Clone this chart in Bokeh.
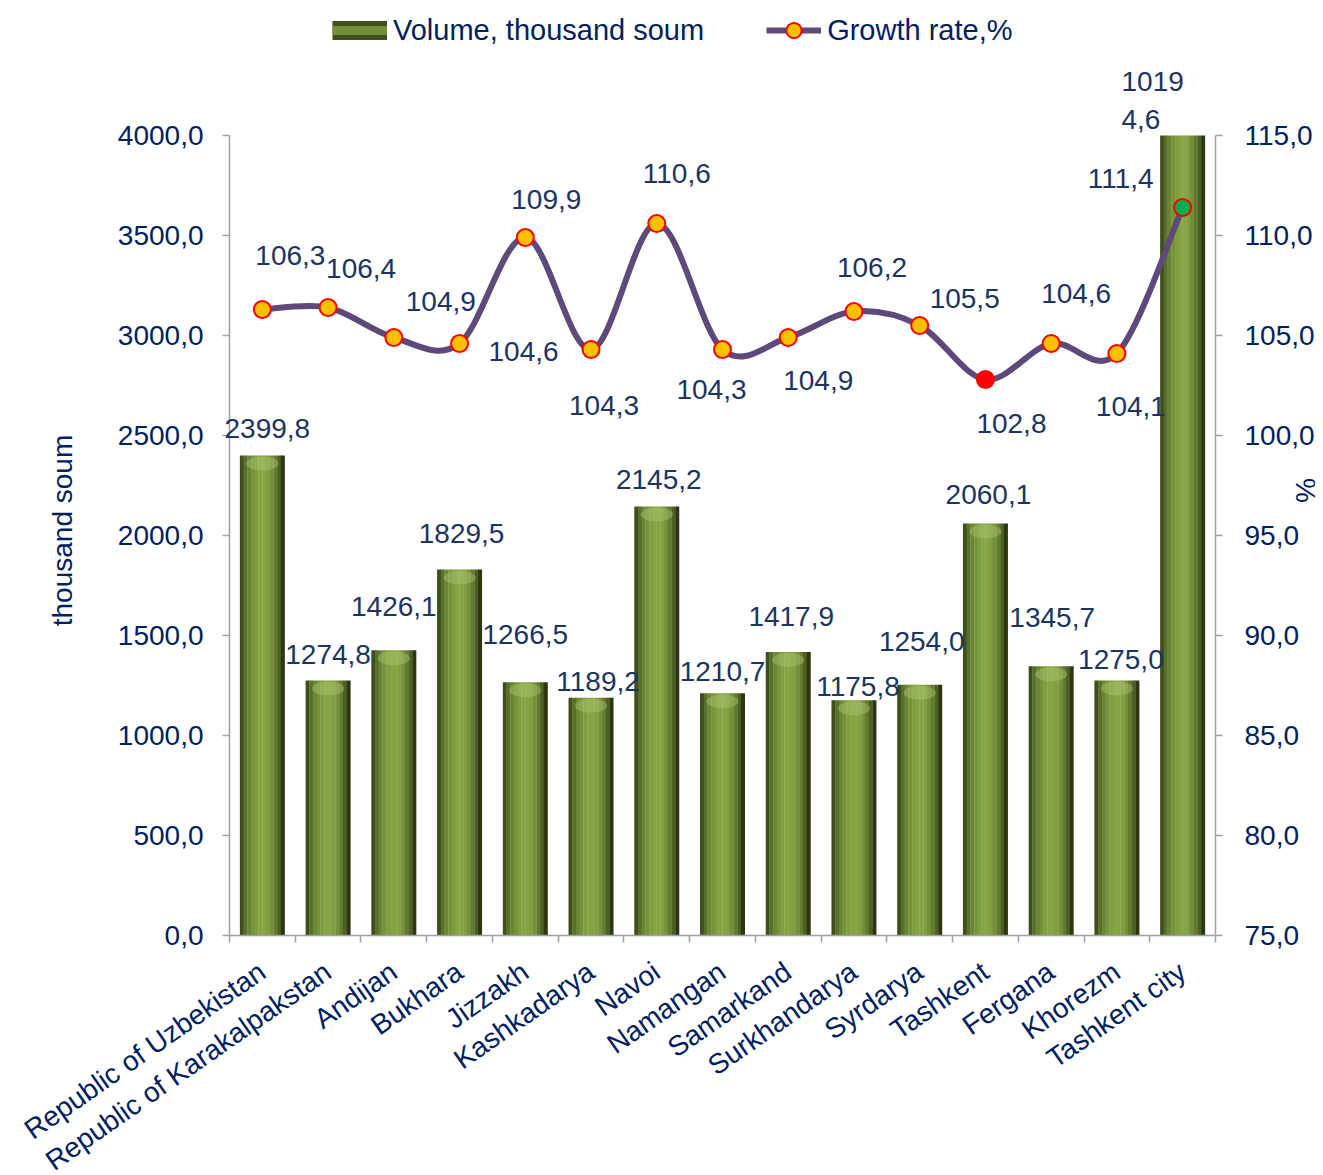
import math
from bokeh.plotting import figure
from bokeh.models import (ColumnDataSource, Range1d, LinearAxis, FixedTicker, Label,
                          CustomJSTickFormatter, LabelSet, Legend, LegendItem)
from bokeh.transform import dodge
from bokeh.core.properties import value
from bokeh.embed import file_html
from bokeh.resources import INLINE

# ---------------- data ----------------
categories = ["Republic of Uzbekistan", "Republic of Karakalpakstan", "Andijan", "Bukhara",
              "Jizzakh", "Kashkadarya", "Navoi", "Namangan", "Samarkand", "Surkhandarya",
              "Syrdarya", "Tashkent", "Fergana", "Khorezm", "Tashkent city"]
volume = [2399.8, 1274.8, 1426.1, 1829.5, 1266.5, 1189.2, 2145.2, 1210.7, 1417.9,
          1175.8, 1254.0, 2060.1, 1345.7, 1275.0, 10194.6]
growth = [106.3, 106.4, 104.9, 104.6, 109.9, 104.3, 110.6, 104.3, 104.9,
          106.2, 105.5, 102.8, 104.6, 104.1, 111.4]
left_ticks = [0, 500, 1000, 1500, 2000, 2500, 3000, 3500, 4000]
right_ticks = [75, 80, 85, 90, 95, 100, 105, 110, 115]

# ---------------- style / layout ----------------
FONT = "Liberation Sans"
NAVY = "#002060"
LNAVY = "#1B3461"
AXIS_GRAY = "#A0A0A0"
LINE_COLOR = "#5F497A"
FS = "28px"
W, H = 1323, 1175
# plot area (the axes' box) inside the canvas, in px
M_LEFT, M_RIGHT, M_TOP, M_BOTTOM = 229, 108, 135, 240
AX_W = W - M_LEFT - M_RIGHT
AX_H = H - M_TOP - M_BOTTOM

# label placement (screen px, +up) -- layout only
bar_dx = [5, 0, 0, 2, 0, 7, 2, 0, 3, 4, 2, 3, 1, 4, -30]
bar_dy = [27, 26, 44, 36, 48, 16, 27, 22, 35, 14, 43, 29, 49, 21, 35]
g_dx = [28, 33, 47, 64, 21, 13, 20, -11, 30, 18, 45, 26, 25, 14, -62]
g_dy = [54, 39, 36, -8, 38, -56, 50, -40, -43, 44, 27, -44, 50, -53, 29]

n = len(categories)
ymin, ymax = left_ticks[0], left_ticks[-1]
rmin, rmax = right_ticks[0], right_ticks[-1]
xpos = [i + 0.5 for i in range(n)]
NAN = float("nan")

# ranges stretched so that the whole canvas is the frame (axes are pinned inside it)
ux = n / AX_W
uy = (ymax - ymin) / AX_H
ur = (rmax - rmin) / AX_H
x_range = Range1d(0 - M_LEFT * ux, n + M_RIGHT * ux)
y_range = Range1d(ymin - M_BOTTOM * uy, ymax + M_TOP * uy)
r_range = Range1d(rmin - M_BOTTOM * ur, rmax + M_TOP * ur)


def fmt(v):
    s = f"{v:.1f}".replace(".", ",")
    if len(s) > 6:
        s = s[:4] + "\n" + s[4:]
    return s


marker_fill = ["#FFC000"] * n
marker_fill[categories.index("Tashkent")] = "#FF0000"
marker_fill[categories.index("Tashkent city")] = "#00B050"

src = ColumnDataSource(dict(
    x=xpos, vol=volume, growth=growth,
    vlabel=[fmt(v) for v in volume],
    vy=[min(v, ymax) for v in volume],
    glabel=[fmt(g) for g in growth],
    bdx=bar_dx, bdy=bar_dy, gdx=g_dx, gdy=g_dy,
    mfill=marker_fill,
))

p = figure(width=W, height=H, x_range=x_range, y_range=y_range,
           output_backend="svg", toolbar_location=None,
           min_border_left=0, min_border_right=0, min_border_top=0, min_border_bottom=0)
p.extra_y_ranges = {"right": r_range}
p.outline_line_color = None
p.grid.visible = False
p.background_fill_color = "white"

# ---------------- bars (cylinder shading by slices) ----------------
bar_w = 0.68
shades = ["#3F4E1C", "#587029", "#6A8533", "#76933A", "#7F9E40", "#85A444",
          "#86A444", "#819E41", "#76903A", "#637B30", "#4C6024", "#2C3712"]
ns = len(shades)
sw = bar_w / ns
for k, c in enumerate(shades):
    off = -bar_w / 2 + (k + 0.5) * sw
    p.vbar(x=dodge("x", off), top="vy", bottom=ymin, width=sw * 1.08, source=src,
           fill_color=c, line_color=None)
# light top cap (only for bars that end inside the axis span)
cap_src = ColumnDataSource(dict(x=[x for x, v in zip(xpos, volume) if v <= ymax],
                                vol=[v for v in volume if v <= ymax]))
p.ellipse(x="x", y=dodge("vol", -40), width=bar_w * 0.72, height=14, height_units="screen",
          source=cap_src, fill_color="#B3CB78", fill_alpha=0.4, line_color=None)

# ---------------- smoothed growth line ----------------
bx0, by0, bx1, by1, bcx0, bcy0, bcx1, bcy1 = ([] for _ in range(8))
for i in range(n - 1):
    xm, ym = (xpos[i - 1], growth[i - 1]) if i > 0 else (xpos[i], growth[i])
    xp, yp = (xpos[i + 2], growth[i + 2]) if i + 2 < n else (xpos[i + 1], growth[i + 1])
    bx0.append(xpos[i]); by0.append(growth[i])
    bx1.append(xpos[i + 1]); by1.append(growth[i + 1])
    bcx0.append(xpos[i] + (xpos[i + 1] - xm) / 6)
    bcy0.append(growth[i] + (growth[i + 1] - ym) / 6)
    bcx1.append(xpos[i + 1] - (xp - xpos[i]) / 6)
    bcy1.append(growth[i + 1] - (yp - growth[i]) / 6)
bsrc = ColumnDataSource(dict(x0=bx0, y0=by0, x1=bx1, y1=by1,
                             cx0=bcx0, cy0=bcy0, cx1=bcx1, cy1=bcy1))
p.bezier(x0="x0", y0="y0", x1="x1", y1="y1", cx0="cx0", cy0="cy0", cx1="cx1", cy1="cy1",
         source=bsrc, y_range_name="right", line_color=LINE_COLOR, line_width=6,
         line_cap="round")
p.scatter(x="x", y="growth", source=src, y_range_name="right", size=17,
          fill_color="mfill", line_color="#FF0000", line_width=2)

# ---------------- data labels ----------------
p.add_layout(LabelSet(x="x", y="vy", text="vlabel", source=src, x_offset="bdx", y_offset="bdy",
                      text_align="center", text_baseline="middle", text_font=value(FONT),
                      text_font_size=value(FS), text_color=LNAVY, text_line_height=1.25))
p.add_layout(LabelSet(x="x", y="growth", text="glabel", source=src, x_offset="gdx",
                      y_offset="gdy", y_range_name="right",
                      text_align="center", text_baseline="middle", text_font=value(FONT),
                      text_font_size=value(FS), text_color=LNAVY))

# ---------------- axes (pinned to the axis box) ----------------
num_fmt = CustomJSTickFormatter(code="return tick.toFixed(1).replace('.', ',');")

xa = p.xaxis[0]
xa.fixed_location = ymin
xa.bounds = (0, n)
xa.ticker = FixedTicker(ticks=xpos, minor_ticks=list(range(n + 1)))
xa.formatter = CustomJSTickFormatter(args=dict(labels=categories),
                                     code="return labels[Math.floor(tick)];")
xa.major_tick_out = 0
xa.major_tick_in = 0
xa.minor_tick_out = 7
xa.minor_tick_in = 0
xa.minor_tick_line_color = AXIS_GRAY
xa.minor_tick_line_width = 1.5
xa.major_label_orientation = 0.61
xa.major_label_standoff = 26

ya = p.yaxis[0]
ya.fixed_location = 0
ya.bounds = (ymin, ymax)
ya.ticker = FixedTicker(ticks=left_ticks)
ya.formatter = num_fmt
ya.major_label_standoff = 19

ra = LinearAxis(y_range_name="right", ticker=FixedTicker(ticks=right_ticks), formatter=num_fmt,
                bounds=(rmin, rmax), fixed_location=n, major_label_standoff=22)
p.add_layout(ra, "right")

for ax in (xa, ya, ra):
    ax.axis_line_color = AXIS_GRAY
    ax.axis_line_width = 1.5
    ax.major_tick_line_color = AXIS_GRAY
    ax.major_tick_line_width = 1.5
    ax.major_label_text_font = FONT
    ax.major_label_text_font_size = FS
    ax.major_label_text_color = NAVY
for ax in (ya, ra):
    ax.major_tick_out = 7
    ax.major_tick_in = 0
    ax.minor_tick_line_color = None

# axis titles
p.add_layout(Label(x=0, y=(ymin + ymax) / 2, x_offset=-167, y_offset=5, text="thousand soum",
                   angle=math.pi / 2, text_align="center", text_baseline="middle",
                   text_font=FONT, text_font_size=FS, text_color=NAVY))
p.add_layout(Label(x=n, y=(rmin + rmax) / 2, y_range_name="right", x_offset=90, y_offset=45,
                   text="%", angle=-math.pi / 2, text_align="center", text_baseline="middle",
                   text_font=FONT, text_font_size=FS, text_color=NAVY))

# ---------------- legend (swatch renderers hold no visible points) ----------------
lb1 = p.line(x=[NAN], y=[NAN], line_color="#3F4E1C", line_width=19, line_cap="butt")
lb2 = p.line(x=[NAN], y=[NAN], line_color="#728E37", line_width=9, line_cap="butt")
ll = p.line(x=[NAN], y=[NAN], line_color=LINE_COLOR, line_width=6)
lm = p.scatter(x=[NAN], y=[NAN], size=15, fill_color="#FFC000", line_color="#FF0000",
               line_width=2)
legend = Legend(items=[LegendItem(label="Volume, thousand soum", renderers=[lb1, lb2]),
                       LegendItem(label="Growth rate,%", renderers=[ll, lm])],
                orientation="horizontal", location=(332, H - 49),
                glyph_width=55, glyph_height=38, label_standoff=6, spacing=62,
                padding=0, margin=0, border_line_color=None, background_fill_alpha=0,
                label_text_font=FONT, label_text_font_size="29px", label_text_color=NAVY)
p.add_layout(legend, "center")

open("out.html", "w").write(file_html(p, INLINE))
